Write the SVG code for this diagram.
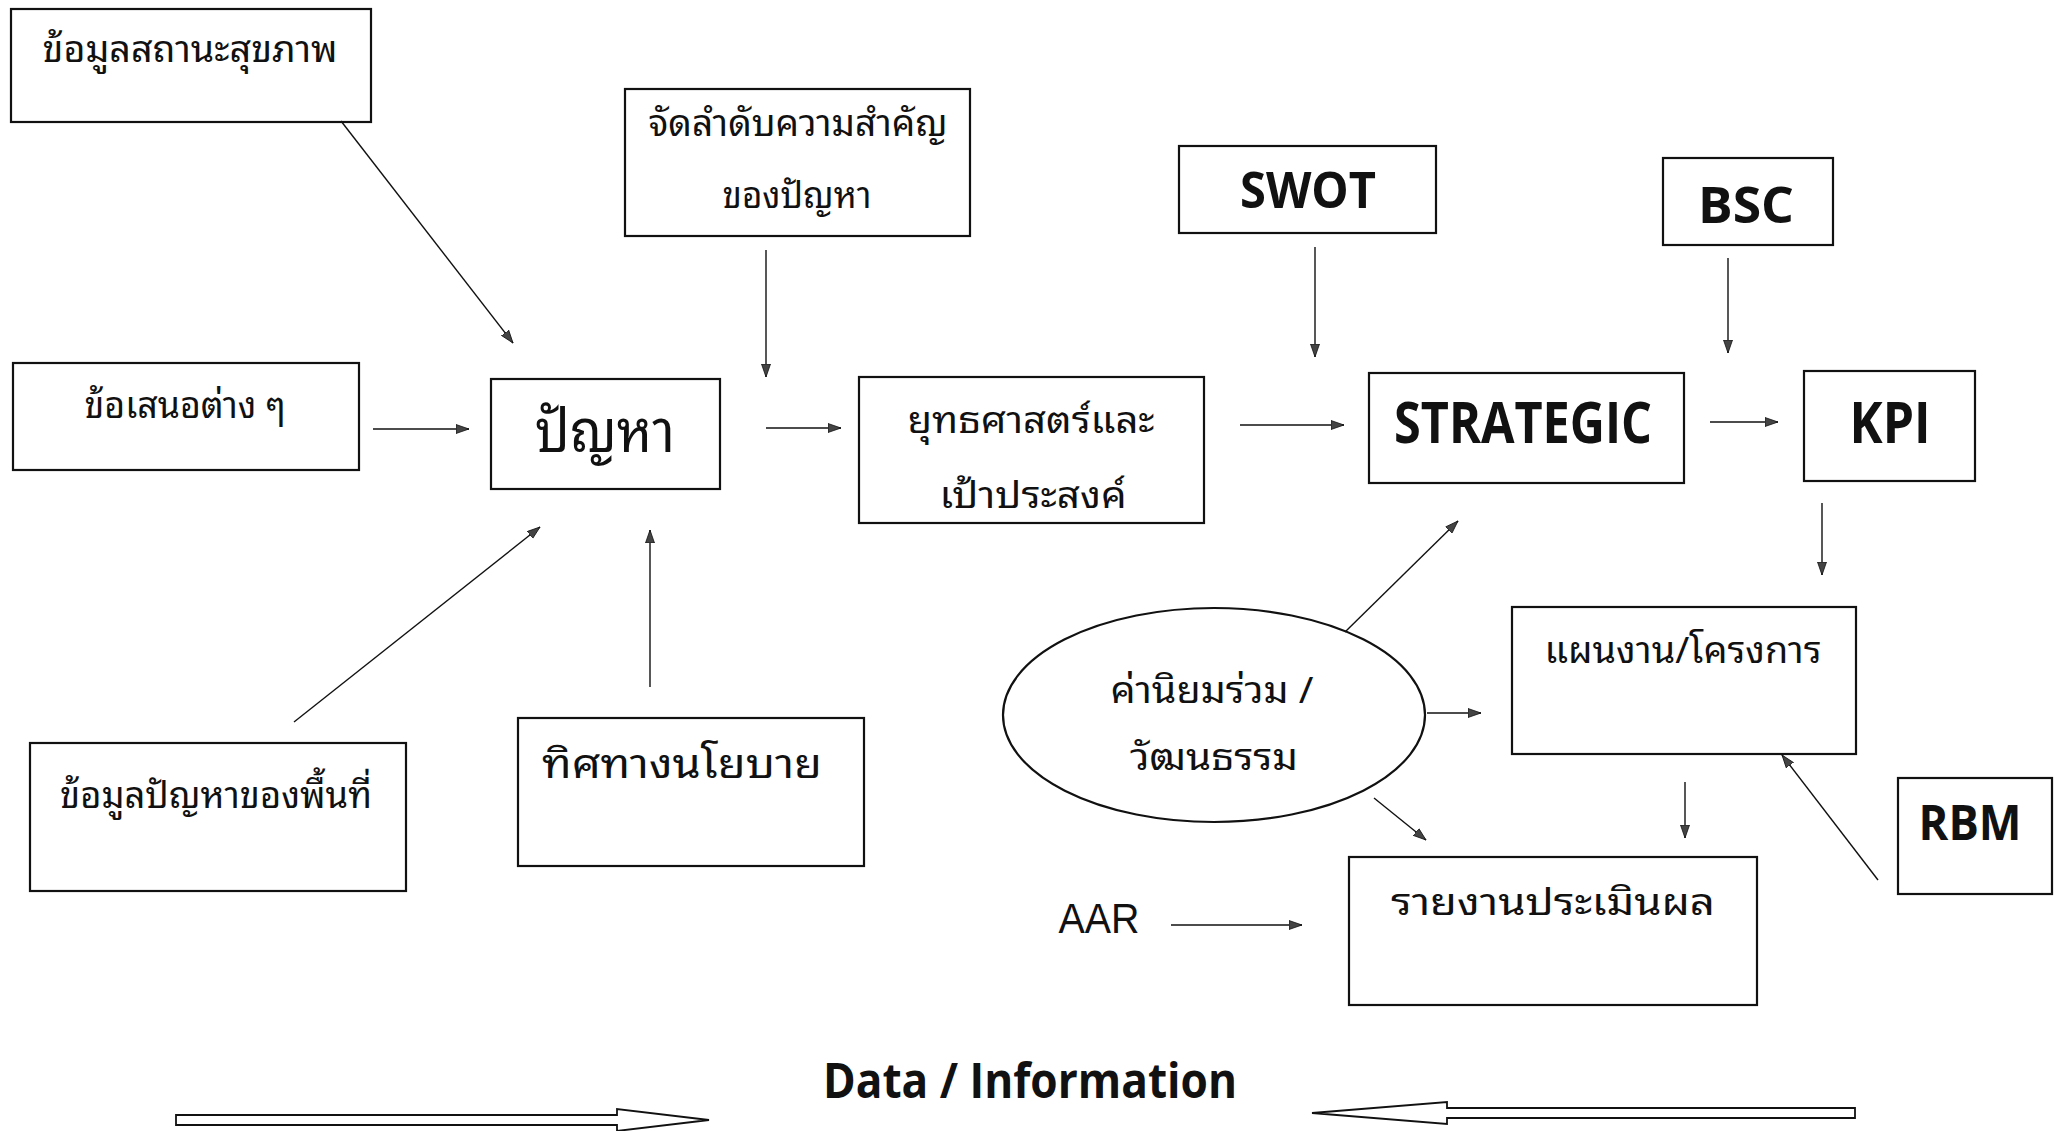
<svg xmlns="http://www.w3.org/2000/svg" width="2059" height="1131" viewBox="0 0 2059 1131">
<defs>
<style>
.box{fill:#fff;stroke:#111;stroke-width:2.2}
.th{font-family:"Noto Sans Thai Looped","Noto Serif Thai","Noto Sans Thai","Noto Sans",sans-serif;fill:#111;text-anchor:middle}
.en{font-family:"Open Sans","Noto Sans",sans-serif;font-weight:bold;fill:#111;text-anchor:middle}
.ln{stroke:#111;stroke-width:1.4;fill:none;marker-end:url(#ah)}
.blk{fill:#fff;stroke:#111;stroke-width:1.8}
</style>
<marker id="ah" markerUnits="userSpaceOnUse" markerWidth="14" markerHeight="10" refX="13" refY="5" orient="auto">
<path d="M0,0.5 L13,5 L0,9.5 Z" fill="#444" stroke="#111" stroke-width="0.8"/>
</marker>
</defs>
<rect width="2059" height="1131" fill="#fff"/>
<g id="n-health"><rect class="box" x="11" y="9" width="360" height="113"/><text class="th" x="190" y="62" font-size="37" textLength="295" lengthAdjust="spacingAndGlyphs">ข้อมูลสถานะสุขภาพ</text></g>
<g id="n-priority"><rect class="box" x="625" y="89" width="345" height="147"/><text class="th" x="798" y="136" font-size="37" textLength="299" lengthAdjust="spacingAndGlyphs">จัดลำดับความสำคัญ</text><text class="th" x="797" y="208" font-size="37" textLength="149" lengthAdjust="spacingAndGlyphs">ของปัญหา</text></g>
<g id="n-proposals"><rect class="box" x="13" y="363" width="346" height="107"/><text class="th" x="185" y="418" font-size="37" textLength="201" lengthAdjust="spacingAndGlyphs">ข้อเสนอต่าง ๆ</text></g>
<g id="n-problem"><rect class="box" x="491" y="379" width="229" height="110"/><text class="th" x="605" y="452" font-size="60" textLength="140" lengthAdjust="spacingAndGlyphs">ปัญหา</text></g>
<g id="n-strategy"><rect class="box" x="859" y="377" width="345" height="146"/><text class="th" x="1031" y="433" font-size="37" textLength="247" lengthAdjust="spacingAndGlyphs">ยุทธศาสตร์และ</text><text class="th" x="1033" y="508" font-size="37" textLength="187" lengthAdjust="spacingAndGlyphs">เป้าประสงค์</text></g>
<g id="n-area"><rect class="box" x="30" y="743" width="376" height="148"/><text class="th" x="216" y="808" font-size="37" textLength="312" lengthAdjust="spacingAndGlyphs">ข้อมูลปัญหาของพื้นที่</text></g>
<g id="n-policy"><rect class="box" x="518" y="718" width="346" height="148"/><text class="th" x="682" y="778" font-size="41" textLength="280" lengthAdjust="spacingAndGlyphs">ทิศทางนโยบาย</text></g>
<g id="n-swot"><rect class="box" x="1179" y="146" width="257" height="87"/><text class="en" x="1308" y="208" font-size="50" textLength="136" lengthAdjust="spacingAndGlyphs">SWOT</text></g>
<g id="n-bsc"><rect class="box" x="1663" y="158" width="170" height="87"/><text class="en" x="1746" y="223" font-size="50" textLength="96" lengthAdjust="spacingAndGlyphs">BSC</text></g>
<g id="n-strategic"><rect class="box" x="1369" y="373" width="315" height="110"/><text class="en" x="1523" y="443" font-size="57" textLength="258" lengthAdjust="spacingAndGlyphs">STRATEGIC</text></g>
<g id="n-kpi"><rect class="box" x="1804" y="371" width="171" height="110"/><text class="en" x="1890" y="443" font-size="57" textLength="81" lengthAdjust="spacingAndGlyphs">KPI</text></g>
<g id="n-values"><ellipse class="box" cx="1214" cy="715" rx="211" ry="107"/><text class="th" x="1212" y="703" font-size="37" textLength="203" lengthAdjust="spacingAndGlyphs">ค่านิยมร่วม /</text><text class="th" x="1214" y="770" font-size="37" textLength="168" lengthAdjust="spacingAndGlyphs">วัฒนธรรม</text></g>
<g id="n-plan"><rect class="box" x="1512" y="607" width="344" height="147"/><text class="th" x="1683" y="663" font-size="37" textLength="277" lengthAdjust="spacingAndGlyphs">แผนงาน/โครงการ</text></g>
<g id="n-rbm"><rect class="box" x="1898" y="778" width="154" height="116"/><text class="en" x="1970" y="840" font-size="49" textLength="103" lengthAdjust="spacingAndGlyphs">RBM</text></g>
<g id="n-report"><rect class="box" x="1349" y="857" width="408" height="148"/><text class="th" x="1553" y="915" font-size="37" textLength="324" lengthAdjust="spacingAndGlyphs">รายงานประเมินผล</text></g>
<g id="n-aar"><text x="1099" y="933" font-family="Liberation Sans, sans-serif" font-size="42" fill="#111" text-anchor="middle" textLength="81" lengthAdjust="spacingAndGlyphs">AAR</text></g>
<g id="n-data"><text class="en" x="1030" y="1098" font-size="48" textLength="414" lengthAdjust="spacingAndGlyphs">Data / Information</text></g>
<g id="connectors">
<line class="ln" x1="341" y1="121" x2="513" y2="343"/>
<line class="ln" x1="373" y1="429" x2="469" y2="429"/>
<line class="ln" x1="766" y1="250" x2="766" y2="377"/>
<line class="ln" x1="766" y1="428" x2="841" y2="428"/>
<line class="ln" x1="294" y1="722" x2="540" y2="527"/>
<line class="ln" x1="650" y1="687" x2="650" y2="530"/>
<line class="ln" x1="1240" y1="425" x2="1344" y2="425"/>
<line class="ln" x1="1315" y1="247" x2="1315" y2="357"/>
<line class="ln" x1="1728" y1="258" x2="1728" y2="353"/>
<line class="ln" x1="1710" y1="422" x2="1778" y2="422"/>
<line class="ln" x1="1822" y1="503" x2="1822" y2="575"/>
<line class="ln" x1="1345" y1="632" x2="1458" y2="521"/>
<line class="ln" x1="1427" y1="713" x2="1481" y2="713"/>
<line class="ln" x1="1374" y1="798" x2="1426" y2="840"/>
<line class="ln" x1="1685" y1="782" x2="1685" y2="838"/>
<line class="ln" x1="1878" y1="880" x2="1782" y2="755"/>
<line class="ln" x1="1171" y1="925" x2="1302" y2="925"/>
<path class="blk" d="M176,1115 L617,1115 L617,1109 L709,1120 L617,1131 L617,1125 L176,1125 Z"/>
<path class="blk" d="M1855,1108 L1447,1108 L1447,1102 L1312,1113 L1447,1124 L1447,1118 L1855,1118 Z"/>
</g>
</svg>
